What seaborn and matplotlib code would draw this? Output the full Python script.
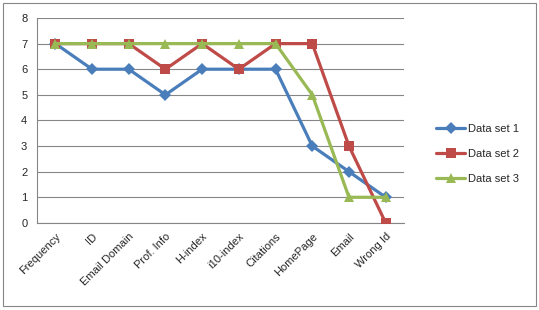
import pandas as pd
import matplotlib.pyplot as plt
import matplotlib.patches as mpatches
import seaborn as sns

# data
categories = ["Frequency", "ID", "Email Domain", "Prof. Info", "H-index",
              "i10-index", "Citations", "HomePage", "Email", "Wrong Id"]
set1 = [7, 6, 6, 5, 6, 6, 6, 3, 2, 1]
set2 = [7, 7, 7, 6, 7, 6, 7, 7, 3, 0]
set3 = [7, 7, 7, 7, 7, 7, 7, 5, 1, 1]
series_names = ["Data set 1", "Data set 2", "Data set 3"]

rows = []
for name, vals in zip(series_names, [set1, set2, set3]):
    for i, v in enumerate(vals):
        rows.append({"pos": i, "value": v, "series": name})
df = pd.DataFrame(rows)

sns.set_style("white")
plt.rcParams['font.family'] = ['Liberation Sans', 'DejaVu Sans']

colors = {"Data set 1": "#4A7EBB", "Data set 2": "#BE4B48", "Data set 3": "#98B954"}
markers = {"Data set 1": "D", "Data set 2": "s", "Data set 3": "^"}

fig = plt.figure(figsize=(5.39, 3.10), dpi=100)
ax = fig.add_axes([0.0686, 0.281, 0.681, 0.661])

sns.lineplot(data=df, x="pos", y="value", hue="series", style="series",
             palette=colors, markers=markers, dashes=False, linewidth=2.3,
             markersize=6.5, markeredgewidth=0, ax=ax, zorder=3)

ax.set_xlim(-0.5, 9.5)
ax.set_ylim(0, 8)
ax.set_yticks(range(0, 9))
ax.set_xticks(range(len(categories)))
ax.set_xticklabels(categories, rotation=45, ha="right", rotation_mode="anchor")
ax.set_xticks([i - 0.5 for i in range(len(categories) + 1)], minor=True)
ax.tick_params(axis="x", which="major", length=0, labelsize=8, pad=6)
ax.tick_params(axis="x", which="minor", length=4, color="#868686", direction="out")
ax.tick_params(axis="y", length=4, color="#868686", direction="out", labelsize=8, pad=3)
ax.set_xlabel("")
ax.set_ylabel("")
ax.grid(axis="y", color="#868686", linewidth=0.8)
ax.set_axisbelow(True)
for s in ["top", "right"]:
    ax.spines[s].set_visible(False)
for s in ["left", "bottom"]:
    ax.spines[s].set_color("#868686")
    ax.spines[s].set_linewidth(0.8)

leg = ax.legend(loc="center left", bbox_to_anchor=(1.06, 0.337), frameon=False,
                fontsize=8, handlelength=2.6, labelspacing=1.35, handletextpad=0.3)

fig.patches.append(mpatches.Rectangle((0.006, 0.012), 0.988, 0.978, transform=fig.transFigure,
                                      fill=False, edgecolor="#868686", linewidth=0.8))

fig.savefig("out.png", dpi=100)
